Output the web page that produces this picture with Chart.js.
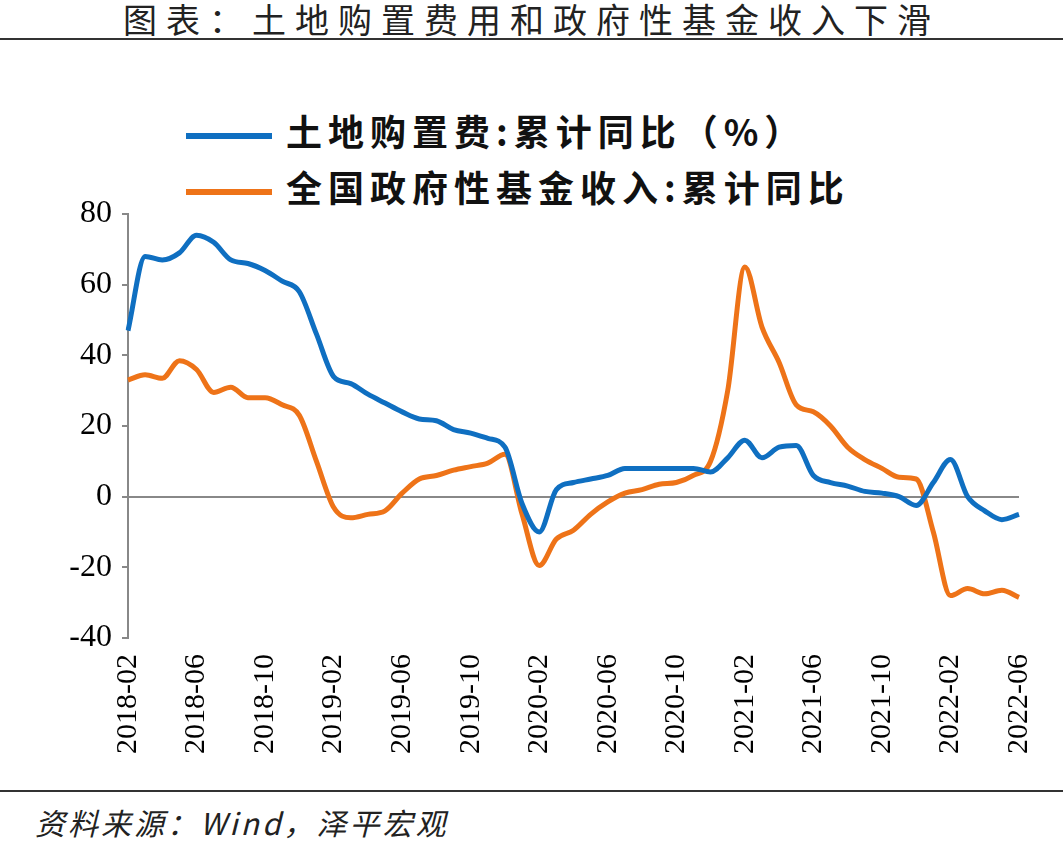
<!DOCTYPE html>
<html><head><meta charset="utf-8">
<script src="https://cdn.jsdelivr.net/npm/chart.js@4"></script>
<style>
body{margin:0;width:1063px;height:851px;background:#fff;position:relative;overflow:hidden;font-family:"Noto Sans CJK SC";}
#title{position:absolute;left:0;top:-6px;width:1063px;text-align:center;font-size:34px;color:#222;letter-spacing:9px;}
#rule{position:absolute;left:0;top:38px;width:1063px;height:2px;background:#333;}
#rule2{position:absolute;left:0;top:790px;width:1063px;height:2px;background:#333;}
#src{position:absolute;left:35px;top:800px;font-size:30px;font-style:italic;color:#222;letter-spacing:3px;}
.lg{position:absolute;left:186px;font-size:36px;font-weight:bold;color:#111;letter-spacing:6px;}
.lg span{display:inline-block;width:86px;height:6px;vertical-align:middle;margin-right:14px;}
canvas{position:absolute;left:0;top:0;}
</style></head><body>
<div id="title">图表：土地购置费用和政府性基金收入下滑</div>
<div id="rule"></div>
<div class="lg" id="lg1" style="top:104px"></div>
<div class="lg" id="lg2" style="top:160px"></div>
<div style="position:absolute;left:0;top:0;width:1063px;height:800px"><canvas id="c"></canvas></div>
<div id="rule2"></div>
<div id="src">资料来源：Wind，泽平宏观</div>
<script>
const seriesNames=["土地购置费:累计同比（%）","全国政府性基金收入:累计同比"];
const colors=["#0f6fc1","#ee7318"];
const months=[];
for(let y=2018;y<=2022;y++)for(let m=1;m<=12;m++){const s=y+"-"+String(m).padStart(2,"0");if(s>="2018-02"&&s<="2022-06")months.push(s);}
const landFee=[47,68,67,69,74,72,67,66,64,61,58,46,34,32,29,26.5,24,22,21.5,19,18,16.5,14,-2,-10,2,4,5,6,8,8,8,8,8,7,11,16,11,14,14.5,6,4,3,1.5,1,0,-2.5,4,10.5,0,-4,-6.5,-5];
const govFund=[33,34.5,33.5,38.5,36,29.5,31,28,28,26,23,10,-3,-6,-5,-4,1,5,6,7.5,8.5,9.5,12,-5,-19.5,-12,-9.5,-5,-1.5,1,2,3.5,4,6,10,30,65,48,38,26,24,20,14,10.5,8,5.5,5,-10,-28,-26,-27.5,-26.5,-28.5];
document.getElementById('lg1').innerHTML='<span style="background:'+colors[0]+'"></span>'+seriesNames[0];
document.getElementById('lg2').innerHTML='<span style="background:'+colors[1]+'"></span>'+seriesNames[1];
const cv=document.getElementById('c');cv.width=1063;cv.height=800;
const tf={family:'Liberation Serif',size:30};
new Chart(cv,{type:'line',data:{labels:months,datasets:[
{label:seriesNames[0],data:landFee,borderColor:colors[0],borderWidth:5,pointRadius:0,tension:0.4,cubicInterpolationMode:'monotone'},
{label:seriesNames[1],data:govFund,borderColor:colors[1],borderWidth:5,pointRadius:0,tension:0.4,cubicInterpolationMode:'monotone'}]},
options:{responsive:false,animation:false,layout:{padding:{left:30,right:35,top:214,bottom:8}},
plugins:{legend:{display:false},tooltip:{enabled:false}},
scales:{y:{min:-40,max:80,afterFit:s=>{s.width=98;},ticks:{stepSize:20,color:'#000',font:{family:'Liberation Serif',size:32},padding:10},
 grid:{drawOnChartArea:true,color:c=>c.tick&&c.tick.value===0?'#888':'transparent',lineWidth:2,tickLength:6,tickColor:'#888'},border:{color:'#888',width:2}},
x:{afterFit:s=>{s.height=154;},ticks:{autoSkip:false,maxRotation:90,minRotation:90,color:'#000',font:tf,padding:8,callback:(v,i)=>i%4===0?months[i]:''},
 grid:{display:false},border:{display:false}}}}});
</script></body></html>
